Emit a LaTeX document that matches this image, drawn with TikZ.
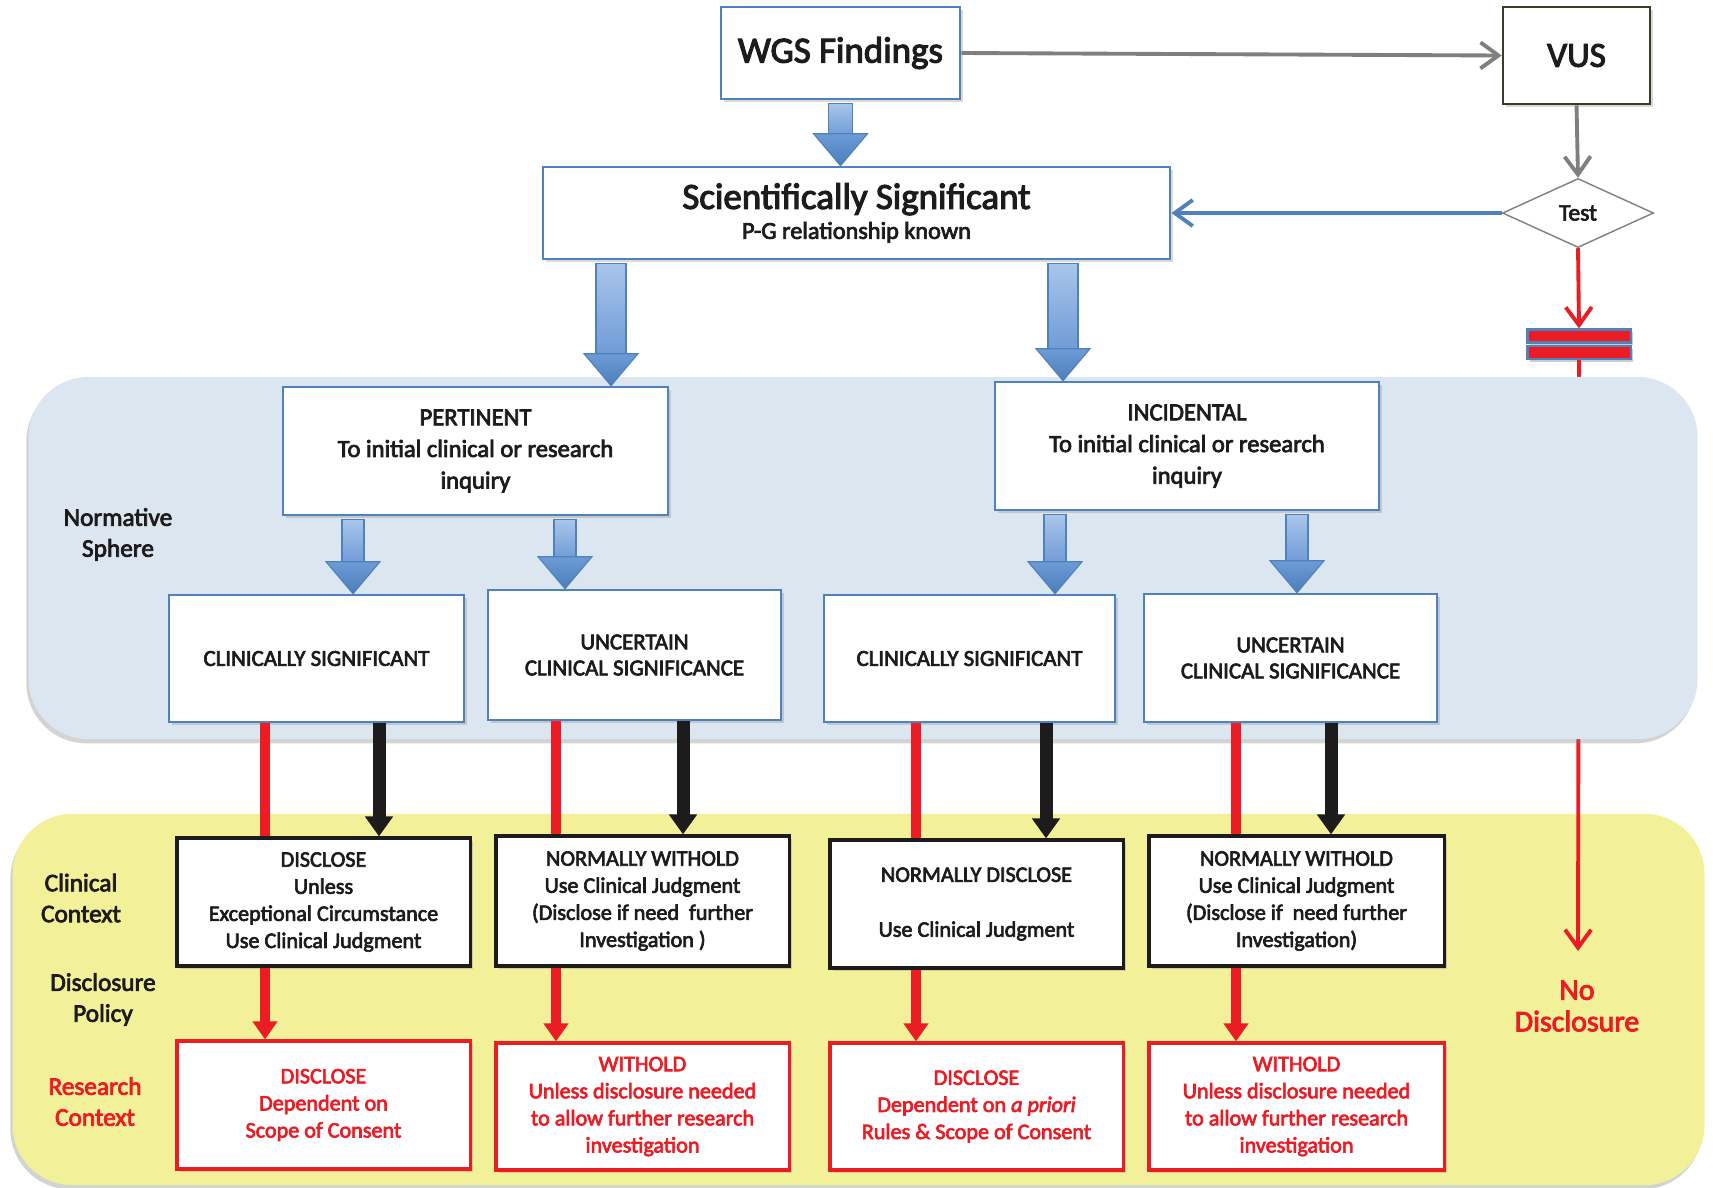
\documentclass[tikz,border=0pt]{standalone}
\usepackage{fontspec}
\setmainfont{Carlito}[FakeBold=3]
\usepackage{tikz}
\usetikzlibrary{
  positioning,
  shapes,
  arrows.meta,
  calc,
  shadows
}
\definecolor{ink}{HTML}{1E1B1C}
\definecolor{boxblue}{HTML}{4F81BD}
\definecolor{arrowtop}{HTML}{A9C5EA}
\definecolor{arrowmid}{HTML}{6E9BD6}
\definecolor{arrowblue}{HTML}{4A7EBB}
\definecolor{redc}{HTML}{EC1C24}
\definecolor{grayc}{HTML}{7F7F7F}
\definecolor{vusline}{HTML}{3B3B2B}
\definecolor{normfill}{HTML}{DCE6F1}
\definecolor{ctxfill}{HTML}{F3F09A}

\tikzset{
  bluebox/.style={draw=boxblue, line width=0.7pt, fill=white, align=center, text=ink,
    inner sep=1pt, drop shadow={shadow xshift=0.8pt, shadow yshift=-0.8pt, opacity=0.3}},
  blackbox/.style={bluebox, draw=ink, line width=0.9pt},
  redbox/.style={bluebox, draw=redc, line width=0.9pt, text=redc},
  region/.style={rounded corners=0.6cm, inner sep=0pt,
    drop shadow={shadow xshift=-0.6pt, shadow yshift=-1.2pt, opacity=0.35}},
  thinarrow/.style={line width=1.1pt, -{Straight Barb[length=1.8mm,width=2.6mm]}},
  redbar/.style={line width=1mm, draw=redc},
  redarrow/.style={redbar, -{Triangle[length=1.8mm,width=2.4mm]}},
  blackarrow/.style={line width=1.3mm, draw=ink, -{Triangle[length=2mm,width=2.7mm]}},
  barrier/.style={fill=redc, draw=boxblue, line width=0.6pt, minimum width=1.03cm,
    minimum height=0.13cm, inner sep=0pt, drop shadow={shadow xshift=0.6pt, shadow yshift=-0.8pt, opacity=0.4}},
  sidelabel/.style={align=center, font=\fontsize{7.2}{8.8}\selectfont, text=ink},
  lvltwo/.style={font=\fontsize{7}{9}\selectfont},
  lvlthree/.style={font=\fontsize{6.5}{7.4}\selectfont},
  lvlfour/.style={font=\fontsize{6.3}{7.7}\selectfont}
}

% shaded block arrow: [shaft half width]{from}{tip}
\newcommand{\blockarrow}[3][12]{%
  \shade[top color=arrowtop, bottom color=arrowmid, draw=boxblue, line width=0.3pt]
    ($#2+(-#1,0)$) rectangle ($#3+(#1,-30)$);
  \shade[top color=arrowmid, bottom color=arrowblue, draw=boxblue, line width=0.3pt]
    ($#3+(-27,-32)$) -- ($#3+(27,-32)$) -- #3 -- cycle;
}

\begin{document}
\begin{tikzpicture}[x=0.01cm, y=-0.01cm]
  \useasboundingbox (0,0) rectangle (1713,1187);

  % context band and the VUS branch under the normative band
  \node[region, fill=ctxfill, minimum width=16.91cm, minimum height=3.71cm] (context) at (858.5,999.5) {};
  \node[draw=grayc, fill=white, shape=diamond, inner sep=0pt, minimum width=1.51cm, minimum height=0.69cm,
        font=\fontsize{6.7}{8}\selectfont, text=ink] (test) at (1578,213) {Test};
  \node[barrier] (bar1) at (1579,336) {};
  \node[barrier] (bar2) at (1579,352.5) {};
  \coordinate (ndtip) at (1578,951);
  \draw[thinarrow, draw=redc] (test.south) -- (bar1.north);
  \draw[thinarrow, draw=redc] (bar2.south) -- (ndtip);
  \node[region, fill=normfill, minimum width=16.68cm, minimum height=3.62cm] (normative) at (863,558) {};

  % top row
  \node[bluebox, minimum width=2.39cm, minimum height=0.92cm, font=\fontsize{10.5}{12}\selectfont] (wgs) at (840.5,53) {WGS Findings};
  \node[bluebox, draw=vusline, minimum width=1.47cm, minimum height=0.97cm, font=\fontsize{10}{12}\selectfont] (vus) at (1576.5,55.5) {VUS};
  \node[bluebox, minimum width=6.27cm, minimum height=0.92cm] (sci) at (856.5,213)
    {{\fontsize{10.5}{12}\selectfont Scientifically Significant}\\[-3.5pt]{\fontsize{6.9}{8}\selectfont P-G relationship known}};
  \draw[thinarrow, draw=grayc] (wgs.east) -- (vus.west);
  \draw[thinarrow, draw=grayc] (vus.south) -- (test.north);
  \draw[thinarrow, draw=boxblue] (test.west) -- (sci.east);

  % normative sphere
  \node[bluebox, lvltwo, minimum width=3.85cm, minimum height=1.28cm] (pert) at (475.5,451)
    {PERTINENT\\To initial clinical or research\\inquiry};
  \node[bluebox, lvltwo, minimum width=3.84cm, minimum height=1.28cm] (inci) at (1187,446)
    {INCIDENTAL\\To initial clinical or research\\inquiry};
  \node[bluebox, lvlthree, minimum width=2.95cm, minimum height=1.27cm] (cs1) at (316.5,658.5) {CLINICALLY SIGNIFICANT};
  \node[bluebox, lvlthree, minimum width=2.93cm, minimum height=1.30cm] (ucs1) at (634.5,655) {UNCERTAIN\\CLINICAL SIGNIFICANCE};
  \node[bluebox, lvlthree, minimum width=2.91cm, minimum height=1.27cm] (cs2) at (969.5,658.5) {CLINICALLY SIGNIFICANT};
  \node[bluebox, lvlthree, minimum width=2.93cm, minimum height=1.28cm] (ucs2) at (1290.5,658) {UNCERTAIN\\CLINICAL SIGNIFICANCE};

  \blockarrow{([yshift=-1pt]wgs.south)}{(wgs.south |- sci.north)}
  \blockarrow[15]{([yshift=-1pt]sci.south -| 611,0)}{(pert.north -| 611,0)}
  \blockarrow[15]{([yshift=-1pt]sci.south -| 1063,0)}{(inci.north -| 1063,0)}
  \foreach \a/\b/\x in {pert/cs1/353, pert/ucs1/565, inci/cs2/1055, inci/ucs2/1297}{
    \blockarrow[11]{([yshift=-1pt]\a.south -| \x,0)}{(\b.north -| \x,0)}
  }

  % clinical context
  \node[blackbox, lvlfour, minimum width=2.93cm, minimum height=1.28cm] (dis1) at (323.5,902)
    {DISCLOSE\\Unless\\Exceptional Circumstance\\Use Clinical Judgment};
  \node[blackbox, lvlfour, minimum width=2.93cm, minimum height=1.30cm] (wit1) at (642.5,901)
    {NORMALLY WITHOLD\\Use Clinical Judgment\\(Disclose if need~~further\\Investigation )};
  \node[blackbox, lvlfour, minimum width=2.93cm, minimum height=1.28cm] (dis2) at (976.5,904)
    {NORMALLY DISCLOSE\\[7.9pt]Use Clinical Judgment};
  \node[blackbox, lvlfour, minimum width=2.95cm, minimum height=1.30cm] (wit2) at (1296.5,901)
    {NORMALLY WITHOLD\\Use Clinical Judgment\\(Disclose if~~need further\\Investigation)};

  % research context
  \node[redbox, lvlfour, minimum width=2.93cm, minimum height=1.28cm] (res1) at (323.5,1105)
    {DISCLOSE\\Dependent on\\Scope of Consent};
  \node[redbox, lvlfour, minimum width=2.93cm, minimum height=1.27cm] (res2) at (642.5,1106.5)
    {WITHOLD\\Unless disclosure needed\\to allow further research\\investigation};
  \node[redbox, lvlfour, minimum width=2.93cm, minimum height=1.27cm] (res3) at (976.5,1106.5)
    {DISCLOSE\\Dependent on \textit{a priori}\\Rules \& Scope of Consent};
  \node[redbox, lvlfour, minimum width=2.95cm, minimum height=1.27cm] (res4) at (1296.5,1106.5)
    {WITHOLD\\Unless disclosure needed\\to allow further research\\investigation};

  \foreach \a/\b/\c/\r/\k in {cs1/dis1/res1/265/379, ucs1/wit1/res2/556/683, cs2/dis2/res3/916/1046, ucs2/wit2/res4/1236/1331}{
    \draw[redbar] (\a.south -| \r,0) -- (\b.north -| \r,0);
    \draw[blackarrow] (\a.south -| \k,0) -- (\b.north -| \k,0);
    \draw[redarrow] (\b.south -| \r,0) -- (\c.north -| \r,0);
  }

  % side labels
  \node[sidelabel] (normlabel) at (118,534.5) {Normative\\Sphere};
  \node[sidelabel] (clinlabel) at (81,898) {Clinical\\Context};
  \node[sidelabel] (disclabel) at (103,999.5) {Disclosure\\Policy};
  \node[sidelabel, text=redc] (reslabel) at (95,1101.5) {Research\\Context};
  \node[sidelabel, text=redc, font=\fontsize{8.5}{9}\selectfont] (nodisc) at (1577,1006) {No\\Disclosure};
\end{tikzpicture}
\end{document}
